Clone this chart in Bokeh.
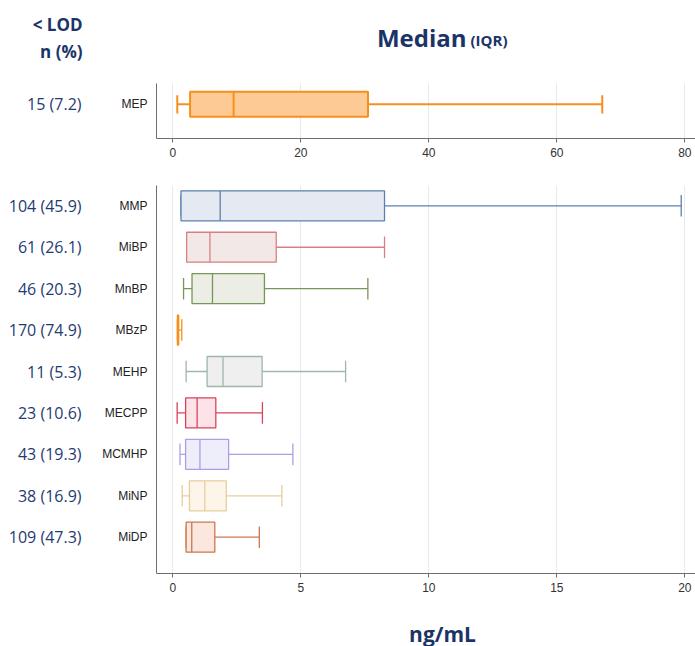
from bokeh.plotting import figure
from bokeh.layouts import column
from bokeh.models import ColumnDataSource, Range1d, FixedTicker, LinearAxis
from bokeh.core.properties import value
from bokeh.embed import file_html
from bokeh.resources import INLINE

# ---------------- data ----------------
top_cats = ["MEP"]
top_lod = ["15 (7.2)"]
top_lo = [0.7]
top_q1 = [2.7]
top_med = [9.5]
top_q3 = [30.5]
top_hi = [67.1]
top_ticks = [0, 20, 40, 60, 80]

cats = ["MMP", "MiBP", "MnBP", "MBzP", "MEHP", "MECPP", "MCMHP", "MiNP", "MiDP"]
lod = ["104 (45.9)", "61 (26.1)", "46 (20.3)", "170 (74.9)", "11 (5.3)",
       "23 (10.6)", "43 (19.3)", "38 (16.9)", "109 (47.3)"]
lo = [0.32, 0.54, 0.42, 0.18, 0.52, 0.17, 0.28, 0.37, 0.52]
q1 = [0.32, 0.54, 0.75, 0.18, 1.34, 0.50, 0.50, 0.65, 0.52]
med = [1.85, 1.45, 1.55, 0.20, 1.96, 0.95, 1.06, 1.25, 0.74]
q3 = [8.27, 4.04, 3.58, 0.23, 3.49, 1.68, 2.18, 2.09, 1.64]
hi = [19.86, 8.27, 7.62, 0.35, 6.75, 3.50, 4.69, 4.26, 3.38]
bottom_ticks = [0, 5, 10, 15, 20]

header_lod = ["< LOD", "n (%)"]
header_stat = ["Median", "(IQR)"]
x_title = "ng/mL"

# ---------------- styles ----------------
top_line = ["#f5901e"]
top_fill = ["#fdca95"]
line_cols = ["#5b80b2", "#d88080", "#78965a", "#f5901e", "#9fb6ab",
             "#d8425e", "#aa9fe6", "#e4cf9c", "#c8794f"]
fill_cols = ["#e5eaf2", "#f3e8e8", "#eceee5", "#f5901e", "#eeefee",
             "#fbe3e7", "#eeeefb", "#fdf4ea", "#fbe7de"]
NAVY = "#1b3468"
LOD_COL = "#1f3b73"
AXIS_COL = "#6e6e6e"
GRID_COL = "#e3ebf0"
W = 695
LEFT = 156


def make_source(labels, lo_, q1_, med_, q3_, hi_, lcols, fcols, bh, ch):
    n = len(labels)
    ys = list(range(n, 0, -1))
    return ColumnDataSource(dict(
        y=ys, cat=labels, lo=lo_, q1=q1_, med=med_, q3=q3_, hi=hi_,
        lc=lcols, fc=fcols,
        yb0=[y - bh / 2 for y in ys], yb1=[y + bh / 2 for y in ys],
        yc0=[y - ch / 2 for y in ys], yc1=[y + ch / 2 for y in ys],
    )), ys


def style(p, ticks, ys, labels, lods, lod_standoff):
    p.outline_line_color = None
    p.background_fill_color = "white"
    p.border_fill_color = "white"
    p.ygrid.grid_line_color = None
    p.xgrid.grid_line_color = GRID_COL
    p.xgrid.grid_line_width = 1
    p.xaxis.ticker = FixedTicker(ticks=ticks)
    p.xaxis.axis_line_color = AXIS_COL
    p.xaxis.major_tick_line_color = AXIS_COL
    p.xaxis.major_tick_out = 4
    p.xaxis.major_tick_in = 0
    p.xaxis.minor_tick_line_color = None
    p.xaxis.major_label_standoff = 5
    p.xaxis.major_label_text_font = "Liberation Sans"
    p.xaxis.major_label_text_font_size = "12px"
    p.xaxis.major_label_text_color = "#333333"
    p.yaxis.ticker = FixedTicker(ticks=ys)
    p.yaxis.major_label_overrides = {y: c for y, c in zip(ys, labels)}
    p.yaxis.axis_line_color = AXIS_COL
    p.yaxis.major_tick_line_color = None
    p.yaxis.minor_tick_line_color = None
    p.yaxis.major_tick_out = 0
    p.yaxis.major_tick_in = 0
    p.yaxis.major_label_standoff = 9
    p.yaxis.major_label_text_font = "Liberation Sans"
    p.yaxis.major_label_text_font_size = "12px"
    p.yaxis.major_label_text_color = "#222222"
    # second left axis carrying the "< LOD n (%)" column
    ax2 = LinearAxis(ticker=FixedTicker(ticks=ys),
                     major_label_overrides={y: t for y, t in zip(ys, lods)},
                     axis_line_color=None, major_tick_line_color=None,
                     minor_tick_line_color=None, major_tick_out=0, major_tick_in=0,
                     major_label_standoff=lod_standoff,
                     major_label_text_font="Open Sans",
                     major_label_text_font_size="16px",
                     major_label_text_color=LOD_COL)
    p.add_layout(ax2, "left")


def draw_boxes(p, src, lw):
    p.segment(x0="q3", y0="y", x1="hi", y1="y", line_color="lc", line_width=lw, source=src)
    p.segment(x0="lo", y0="y", x1="q1", y1="y", line_color="lc", line_width=lw, source=src)
    p.segment(x0="hi", y0="yc0", x1="hi", y1="yc1", line_color="lc", line_width=lw, source=src)
    p.segment(x0="lo", y0="yc0", x1="lo", y1="yc1", line_color="lc", line_width=lw, source=src)
    p.quad(left="q1", right="q3", bottom="yb0", top="yb1", fill_color="fc",
           line_color="lc", line_width=lw, source=src)
    p.segment(x0="med", y0="yb0", x1="med", y1="yb1", line_color="lc", line_width=lw, source=src)


def text_fig(height):
    # frame spans page x LEFT..W, so data x equals page x; data y equals page y
    f = figure(width=W, height=height, output_backend="svg", toolbar_location=None,
               x_range=Range1d(LEFT, W), y_range=Range1d(height, 0),
               x_axis_type=None, title=None,
               min_border_left=LEFT, min_border_right=0, min_border_top=0,
               min_border_bottom=0)
    f.outline_line_color = None
    f.background_fill_color = "white"
    f.border_fill_color = "white"
    f.ygrid.grid_line_color = None
    f.yaxis.axis_line_color = None
    f.yaxis.major_tick_line_color = None
    f.yaxis.minor_tick_line_color = None
    f.yaxis.major_tick_out = 0
    f.yaxis.major_tick_in = 0
    f.yaxis.major_label_text_font = "Open Sans"
    f.yaxis.major_label_text_font_style = "bold"
    f.yaxis.major_label_text_font_size = "17px"
    f.yaxis.major_label_text_color = NAVY
    f.yaxis.ticker = FixedTicker(ticks=[])
    return f


def put_text(f, x, y, txt, size, align):
    f.text(x=[x], y=[y], text=[txt], text_align=align, text_baseline="middle",
           text_font=value("Open Sans"), text_font_style="bold",
           text_font_size=size, text_color=NAVY)


# ---------------- header ----------------
head = text_fig(75)
head_rows = [24, 51]
head.yaxis.ticker = FixedTicker(ticks=head_rows)
head.yaxis.major_label_overrides = {y: t for y, t in zip(head_rows, header_lod)}
head.yaxis.major_label_standoff = LEFT - 82
put_text(head, 466, 36.5, header_stat[0], "24px", "right")
put_text(head, 470, 39, header_stat[1], "15px", "left")

# ---------------- top panel ----------------
top = figure(width=W, height=95, output_backend="svg", toolbar_location=None,
             x_range=Range1d(-2.547, 81.67), y_range=Range1d(0.378, 1.378),
             min_border_left=LEFT, min_border_right=0, min_border_top=8,
             min_border_bottom=32, title=None)
tsrc, tys = make_source(top_cats, top_lo, top_q1, top_med, top_q3, top_hi,
                        top_line, top_fill, 0.455, 0.333)
style(top, top_ticks, tys, top_cats, top_lod, 37)
draw_boxes(top, tsrc, 2)

# ---------------- bottom panel ----------------
bot = figure(width=W, height=432, output_backend="svg", toolbar_location=None,
             x_range=Range1d(-0.637, 20.418), y_range=Range1d(0.124, 9.49),
             min_border_left=LEFT, min_border_right=0, min_border_top=15,
             min_border_bottom=29, title=None)
bsrc, bys = make_source(cats, lo, q1, med, q3, hi, line_cols, fill_cols, 0.724, 0.52)
style(bot, bottom_ticks, bys, cats, lod, 18)
draw_boxes(bot, bsrc, 1.3)

# ---------------- footer ----------------
foot = text_fig(44)
put_text(foot, 442, 31, x_title, "21px", "center")

layout = column(head, top, bot, foot, spacing=0)
open("out.html", "w").write(file_html(layout, INLINE))
